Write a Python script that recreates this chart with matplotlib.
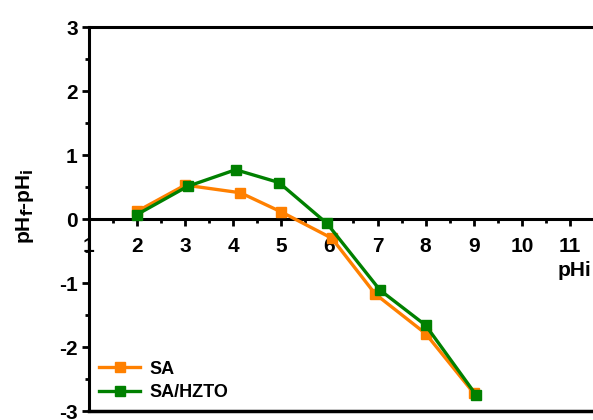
import matplotlib
matplotlib.use("Agg")
import matplotlib.pyplot as plt
from matplotlib.ticker import MultipleLocator

plt.rcParams['font.family'] = ['Liberation Sans', 'DejaVu Sans']
plt.rcParams['font.weight'] = 'bold'
plt.rcParams['axes.unicode_minus'] = False

# pH change after adsorption versus initial pH
sa_x = [2, 3, 4.15, 5, 6.05, 6.95, 8, 9]
sa_y = [0.12, 0.53, 0.41, 0.11, -0.3, -1.17, -1.79, -2.72]
hzto_x = [2, 3.05, 4.05, 4.95, 5.95, 7.05, 8, 9.05]
hzto_y = [0.07, 0.51, 0.77, 0.57, -0.07, -1.11, -1.66, -2.75]

x_ticks = [1, 2, 3, 4, 5, 6, 7, 8, 9, 10, 11]
y_ticks = [-3, -2, -1, 0, 1, 2, 3]

fig = plt.figure(figsize=(5.93, 4.20), dpi=100)
ax = fig.add_axes([0.150, 0.0214, 0.850, 0.9143])

ax.plot(sa_x, sa_y, color='#FF8000', lw=2.4, marker='s', ms=6.5, label='SA', zorder=3)
ax.plot(hzto_x, hzto_y, color='#008000', lw=2.4, marker='s', ms=6.5, label='SA/HZTO', zorder=4)

ax.set_xlim(1, 11.48)
ax.set_ylim(-3, 3)

ax.spines['bottom'].set_position(('data', 0))
ax.spines['right'].set_visible(False)
for s in ['left', 'bottom', 'top']:
    ax.spines[s].set_linewidth(2.2)
ax.axhline(-3, color='black', lw=2.5, clip_on=False, zorder=5)

ax.set_xticks(x_ticks)
ax.set_yticks(y_ticks)
ax.xaxis.set_minor_locator(MultipleLocator(0.5))
ax.yaxis.set_minor_locator(MultipleLocator(0.5))
ax.tick_params(axis='both', which='major', direction='out', length=5, width=2,
               labelsize=15, pad=3)
ax.tick_params(axis='both', which='minor', direction='out', length=3, width=2)
ax.tick_params(axis='x', which='major', pad=8)
for lbl in ax.get_xticklabels() + ax.get_yticklabels():
    lbl.set_fontweight('bold')

ax.text(11.45, -0.8, 'pHi', fontsize=15, fontweight='bold', ha='right', va='center')
fig.text(0.043, 0.51, r'pH$_\mathbf{f}$-pH$_\mathbf{i}$', fontsize=15, fontweight='bold',
         rotation=90, ha='center', va='center')

leg = ax.legend(loc='lower left', bbox_to_anchor=(0.0, 0.0), frameon=False,
                prop={'size': 13, 'weight': 'bold'}, handlelength=2.3,
                handletextpad=0.5, labelspacing=0.35, borderaxespad=0.15)

fig.savefig('out.png', dpi=100)
